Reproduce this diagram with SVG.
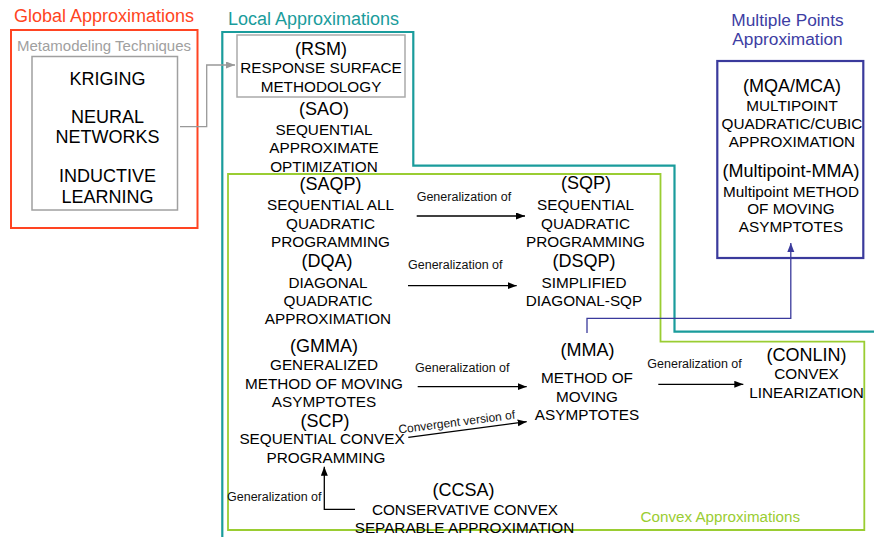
<svg xmlns="http://www.w3.org/2000/svg" width="874" height="537" viewBox="0 0 874 537">
<style>
text{font-family:"Liberation Sans",Arial,sans-serif;fill:#000;text-anchor:middle}
.d{font-size:15.3px}
.a{font-size:18px}
.l{font-size:12.5px;text-anchor:start;fill:#111}
.ttl{font-size:18px;text-anchor:start}
.ln{fill:none;stroke:#000;stroke-width:1.3}
</style>
<defs>
<marker id="ah" markerUnits="userSpaceOnUse" markerWidth="10" markerHeight="8" refX="9" refY="3.5" orient="auto"><path d="M0,0 L9,3.5 L0,7 z" fill="#000"/></marker>
<marker id="ahg" markerUnits="userSpaceOnUse" markerWidth="10" markerHeight="8" refX="9" refY="3.5" orient="auto"><path d="M0,0 L9,3.5 L0,7 z" fill="#999"/></marker>
<marker id="ahb" markerUnits="userSpaceOnUse" markerWidth="10" markerHeight="8" refX="9" refY="3.5" orient="auto"><path d="M0,0 L9,3.5 L0,7 z" fill="#3a3a9c"/></marker>
</defs>
<rect width="874" height="537" fill="#fff"/>

<g id="global">
<rect x="11" y="30" width="186.5" height="198" fill="none" stroke="#ff4422" stroke-width="2"/>
<text class="ttl" x="14" y="22" style="fill:#ff4422">Global Approximations</text>
</g>

<g id="metamodeling">
<text x="104" y="51" style="font-size:15px;fill:#a0a0a0">Metamodeling Techniques</text>
<rect x="32" y="56.5" width="145.5" height="153.5" fill="none" stroke="#a0a0a0" stroke-width="1.5"/>
<text class="a" x="107.5" y="85">KRIGING</text>
<text class="a" x="107.5" y="123.3">NEURAL</text>
<text class="a" x="107.5" y="143.3">NETWORKS</text>
<text class="a" x="107.5" y="181.7">INDUCTIVE</text>
<text class="a" x="107.5" y="202.7">LEARNING</text>
</g>

<g id="local">
<path d="M222.3,537 V32 H413.3 V165.7 H674.5 V331.7 H874" fill="none" stroke="#1a9c9c" stroke-width="2.2"/>
<text class="ttl" x="228" y="25" style="fill:#1a9c9c">Local Approximations</text>
</g>

<g id="convex">
<path d="M228,174 H660.5 V341.7 H864.3 V530 H228 Z" fill="none" stroke="#9acd32" stroke-width="1.8"/>
<text x="720.3" y="521.7" style="font-size:15.2px;fill:#9acd32">Convex Approximations</text>
</g>

<g id="rsm">
<rect x="237" y="35" width="168" height="62" fill="none" stroke="#aaa" stroke-width="1.5"/>
<text class="a" x="321" y="54.5">(RSM)</text>
<text class="d" x="321" y="73.3">RESPONSE SURFACE</text>
<text class="d" x="321" y="92.3">METHODOLOGY</text>
</g>

<g id="sao">
<text class="a" x="324" y="115">(SAO)</text>
<text class="d" x="324" y="135">SEQUENTIAL</text>
<text class="d" x="324" y="153.3">APPROXIMATE</text>
<text class="d" x="324" y="171.7">OPTIMIZATION</text>
</g>

<g id="saqp">
<text class="a" x="330.5" y="190">(SAQP)</text>
<text class="d" x="330.5" y="210">SEQUENTIAL ALL</text>
<text class="d" x="330.5" y="229">QUADRATIC</text>
<text class="d" x="330.5" y="247.3">PROGRAMMING</text>
</g>

<g id="dqa">
<text class="a" x="327" y="266.7">(DQA)</text>
<text class="d" x="328" y="287.7">DIAGONAL</text>
<text class="d" x="328" y="306">QUADRATIC</text>
<text class="d" x="328" y="324.3">APPROXIMATION</text>
</g>

<g id="sqp">
<text class="a" x="586" y="189">(SQP)</text>
<text class="d" x="585.5" y="210">SEQUENTIAL</text>
<text class="d" x="585.5" y="229">QUADRATIC</text>
<text class="d" x="585.5" y="247.3">PROGRAMMING</text>
</g>

<g id="dsqp">
<text class="a" x="584" y="266.7">(DSQP)</text>
<text class="d" x="584" y="287.7">SIMPLIFIED</text>
<text class="d" x="584" y="306">DIAGONAL-SQP</text>
</g>

<g id="gmma">
<text class="a" x="324" y="351.7">(GMMA)</text>
<text class="d" x="324" y="370">GENERALIZED</text>
<text class="d" x="324" y="389">METHOD OF MOVING</text>
<text class="d" x="324" y="406.7">ASYMPTOTES</text>
</g>

<g id="scp">
<text class="a" x="325" y="426.7">(SCP)</text>
<text class="d" x="322" y="444.3">SEQUENTIAL CONVEX</text>
<text class="d" x="326" y="463.3">PROGRAMMING</text>
</g>

<g id="mma">
<text class="a" x="587.5" y="356">(MMA)</text>
<text class="d" x="587" y="383.3">METHOD OF</text>
<text class="d" x="587" y="401.7">MOVING</text>
<text class="d" x="587" y="420">ASYMPTOTES</text>
</g>

<g id="conlin">
<text class="a" x="806.5" y="361">(CONLIN)</text>
<text class="d" x="806.5" y="379">CONVEX</text>
<text class="d" x="806.5" y="397.7">LINEARIZATION</text>
</g>

<g id="ccsa">
<text class="a" x="463.5" y="495.5">(CCSA)</text>
<text class="d" x="465" y="514.5">CONSERVATIVE CONVEX</text>
<text class="d" x="464.5" y="532.5">SEPARABLE APPROXIMATION</text>
</g>

<g id="multipoint">
<text x="787.5" y="26" style="font-size:17.3px;fill:#3d3da3">Multiple Points</text>
<text x="787.5" y="45" style="font-size:17.3px;fill:#3d3da3">Approximation</text>
<rect x="717.3" y="61" width="146" height="197" fill="none" stroke="#3a3a9c" stroke-width="2.2"/>
<text class="a" x="792" y="91.7">(MQA/MCA)</text>
<text class="d" x="792" y="110.7">MULTIPOINT</text>
<text class="d" x="792" y="129">QUADRATIC/CUBIC</text>
<text class="d" x="792" y="147.3">APPROXIMATION</text>
<text class="a" x="791" y="176.7">(Multipoint-MMA)</text>
<text class="d" x="791" y="196.7">Multipoint METHOD</text>
<text class="d" x="791" y="214.3">OF MOVING</text>
<text class="d" x="791" y="232.3">ASYMPTOTES</text>
</g>

<g id="connectors">
<path d="M180,126.7 H206.7 V65 H235" fill="none" stroke="#999" stroke-width="1.3" marker-end="url(#ahg)"/>
<path class="ln" d="M416.7,216 H525" marker-end="url(#ah)"/>
<text class="l" x="416.7" y="201">Generalization of</text>
<path class="ln" d="M408,285.7 H516.7" marker-end="url(#ah)"/>
<text class="l" x="408" y="269.3">Generalization of</text>
<path class="ln" d="M417.7,386.7 H526.7" marker-end="url(#ah)"/>
<text class="l" x="415" y="371.7">Generalization of</text>
<path class="ln" d="M408.3,437.3 L526.7,421.7" marker-end="url(#ah)"/>
<text class="l" x="399" y="433.5" style="font-size:12px" transform="rotate(-7.3 399 433.5)">Convergent version of</text>
<path class="ln" d="M658.3,384.3 H743.3" marker-end="url(#ah)"/>
<text class="l" x="647.3" y="368.3">Generalization of</text>
<path class="ln" d="M355,509.3 H324.3 V466.7" marker-end="url(#ah)"/>
<text class="l" x="227" y="500.7">Generalization of</text>
<path d="M587,333 V318.3 H790.8 V243" fill="none" stroke="#3a3a9c" stroke-width="1.3" marker-end="url(#ahb)"/>
</g>
</svg>
